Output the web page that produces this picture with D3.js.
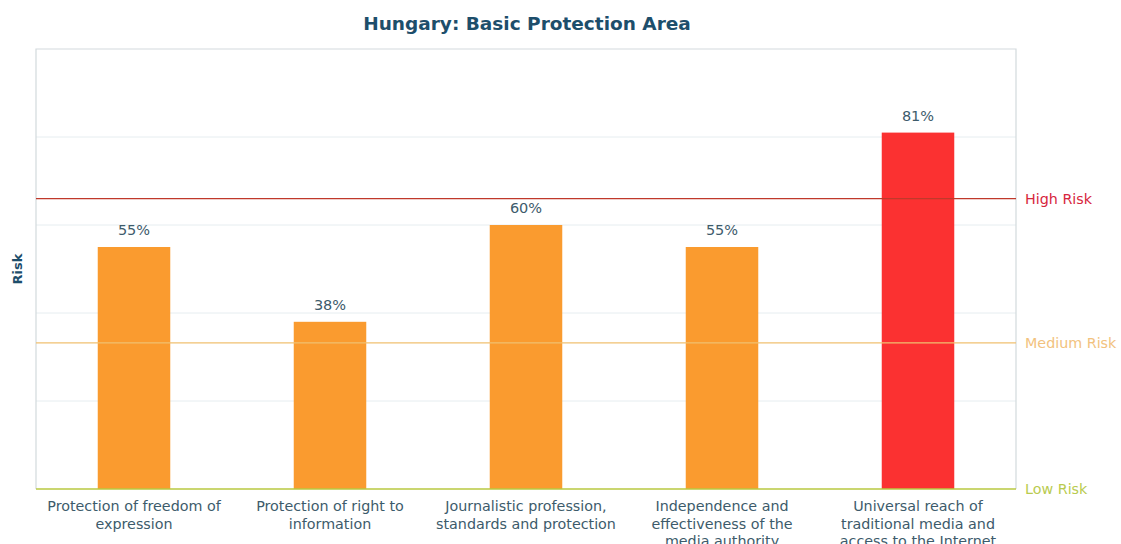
<!DOCTYPE html>
<html>
<head>
<meta charset="utf-8">
<script src="https://cdn.jsdelivr.net/npm/d3@7"></script>
<style>
  body { margin: 0; background: #fff; }
  svg { font-family: "DejaVu Sans", sans-serif; }
</style>
</head>
<body>
<svg width="1121" height="544"></svg>
<script>
// Chart data
const categories = [
    "Protection of freedom of|expression",
    "Protection of right to|information",
    "Journalistic profession,|standards and protection",
    "Independence and|effectiveness of the|media authority",
    "Universal reach of|traditional media and|access to the Internet"
];
const values = [55, 38, 60, 55, 81];
const riskLevels = ["Low Risk", "Medium Risk", "High Risk"];
const riskThresholds = [0, 33.2, 66];
const yTicks = [0, 20, 40, 60, 80, 100];

const svg = d3.select("svg");
const margin = { left: 36, right: 105, top: 48, bottom: 55 };
const width = 1121, height = 544;

const x = d3.scaleBand()
    .domain(categories)
    .range([margin.left, width - margin.right])
    .paddingInner(0.63)
    .paddingOuter(0.315);

const y = d3.scaleLinear()
    .domain([0, 100])
    .range([height - margin.bottom, margin.top + 1]);

const barColor = v => v > 66 ? "#fb3131" : (v > 33.2 ? "#fa9b2f" : "#b5c63a");
const riskColors = ["#b9cb4f", "#f2c27e", "#d7263d"];
const riskLineColors = ["#b8c840", "#f0c070", "#c0392b"];

// Gridlines
svg.append("g")
    .selectAll("line")
    .data(yTicks.slice(1, -1))
    .join("line")
    .attr("x1", margin.left)
    .attr("x2", width - margin.right)
    .attr("y1", d => y(d))
    .attr("y2", d => y(d))
    .attr("stroke", "#e6edf0")
    .attr("stroke-width", 1);

// Plot border (left, top, right)
svg.append("path")
    .attr("d", `M${margin.left},${y(0)}V${y(100)}H${width - margin.right}V${y(0)}`)
    .attr("fill", "none")
    .attr("stroke", "#d3dadd")
    .attr("stroke-width", 1.2);

// Bars
svg.append("g")
    .selectAll("rect")
    .data(values)
    .join("rect")
    .attr("x", (d, i) => x(categories[i]))
    .attr("y", d => y(d))
    .attr("width", x.bandwidth())
    .attr("height", d => y(0) - y(d))
    .attr("fill", d => barColor(d));

// Value labels
svg.append("g")
    .selectAll("text")
    .data(values)
    .join("text")
    .attr("x", (d, i) => x(categories[i]) + x.bandwidth() / 2)
    .attr("y", d => y(d) - 12)
    .attr("text-anchor", "middle")
    .attr("font-size", 14.5)
    .attr("fill", "#3d5b6b")
    .text(d => d + "%");

// Risk threshold lines
svg.append("g")
    .selectAll("line")
    .data(riskThresholds)
    .join("line")
    .attr("x1", margin.left)
    .attr("x2", width - margin.right)
    .attr("y1", d => y(d))
    .attr("y2", d => y(d))
    .attr("stroke", (d, i) => riskLineColors[i])
    .attr("stroke-width", 1.4);

// Risk labels on the right
svg.append("g")
    .selectAll("text")
    .data(riskThresholds)
    .join("text")
    .attr("x", width - margin.right + 9)
    .attr("y", d => y(d) + 5)
    .attr("font-size", 14.3)
    .attr("fill", (d, i) => riskColors[i])
    .text((d, i) => riskLevels[i]);

// Category labels
const xLabels = svg.append("g")
    .selectAll("text")
    .data(categories)
    .join("text")
    .attr("x", d => x(d) + x.bandwidth() / 2)
    .attr("y", y(0) + 22)
    .attr("text-anchor", "middle")
    .attr("font-size", 14.3)
    .attr("fill", "#3d5b6b");
xLabels.selectAll("tspan")
    .data(d => d.split("|"))
    .join("tspan")
    .attr("x", function () { return d3.select(this.parentNode).attr("x"); })
    .attr("dy", (d, i) => i === 0 ? 0 : 17.5)
    .text(d => d);

// Title
svg.append("text")
    .attr("x", 527)
    .attr("y", 30)
    .attr("text-anchor", "middle")
    .attr("font-size", 18.5)
    .attr("font-weight", "bold")
    .attr("fill", "#1d4e6b")
    .text("Hungary: Basic Protection Area");

// Y axis label
svg.append("text")
    .attr("transform", `translate(22,${(y(0) + y(100)) / 2}) rotate(-90)`)
    .attr("text-anchor", "middle")
    .attr("font-size", 13)
    .attr("font-weight", "bold")
    .attr("fill", "#1d4e6b")
    .text("Risk");
</script>
</body>
</html>
